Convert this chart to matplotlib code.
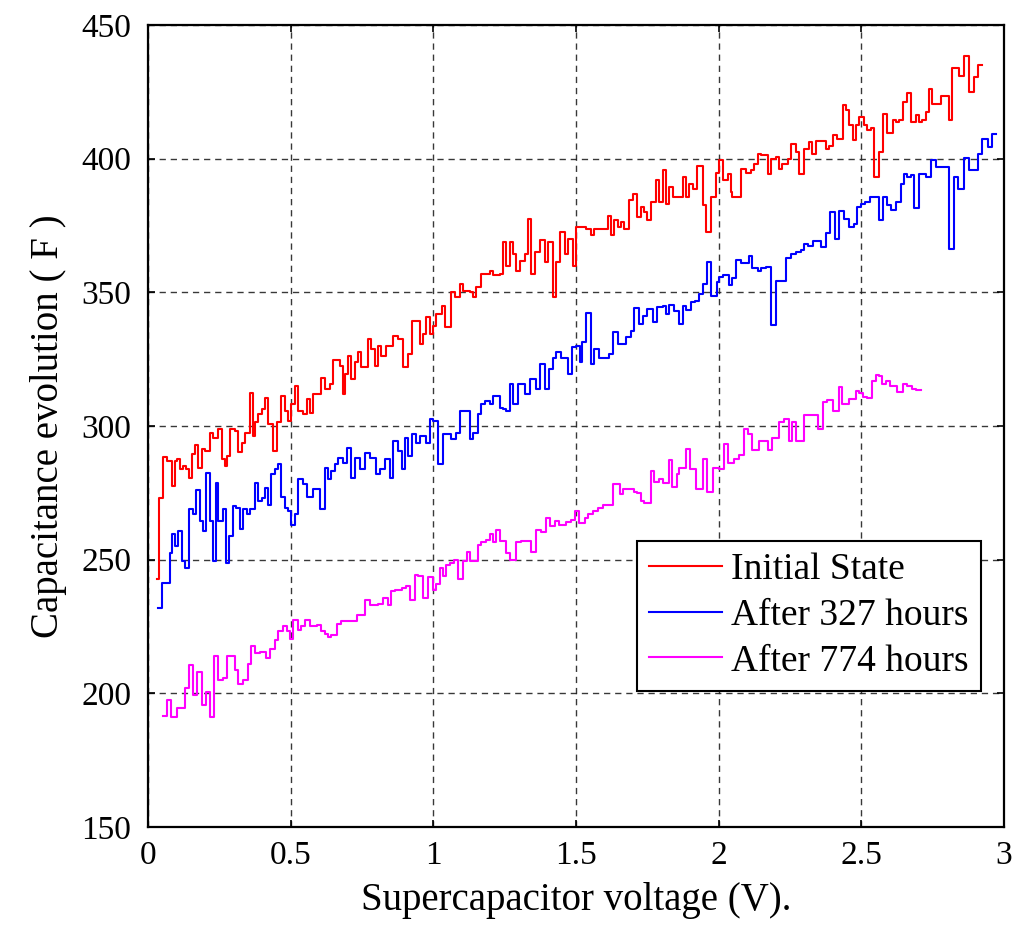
import numpy as np
import matplotlib
matplotlib.use("Agg")
import matplotlib.pyplot as plt

# values (step start voltage, capacitance)
red_v = [0.030, 0.040, 0.051, 0.065, 0.083, 0.095, 0.100, 0.112, 0.124, 0.135,
         0.145, 0.156, 0.165, 0.176, 0.188, 0.200, 0.217, 0.229, 0.246, 0.258,
         0.270, 0.278, 0.287, 0.305, 0.316, 0.328, 0.340, 0.357, 0.369, 0.375,
         0.386, 0.398, 0.410, 0.421, 0.439, 0.453, 0.468, 0.480, 0.492, 0.503,
         0.515, 0.527, 0.544, 0.556, 0.567, 0.579, 0.608, 0.620, 0.637, 0.649,
         0.673, 0.682, 0.690, 0.702, 0.713, 0.725, 0.737, 0.748, 0.772, 0.783,
         0.795, 0.807, 0.818, 0.836, 0.859, 0.877, 0.894, 0.912, 0.924, 0.953,
         0.964, 0.976, 0.988, 0.999, 1.011, 1.029, 1.040, 1.064, 1.075, 1.093,
         1.104, 1.128, 1.140, 1.151, 1.169, 1.198, 1.210, 1.233, 1.245, 1.256,
         1.268, 1.280, 1.291, 1.303, 1.321, 1.332, 1.344, 1.356, 1.373, 1.391,
         1.402, 1.420, 1.431, 1.443, 1.461, 1.472, 1.490, 1.501, 1.512, 1.535,
         1.553, 1.564, 1.611, 1.623, 1.634, 1.646, 1.658, 1.669, 1.687, 1.699,
         1.716, 1.728, 1.739, 1.751, 1.763, 1.780, 1.792, 1.804, 1.815, 1.827,
         1.839, 1.874, 1.886, 1.897, 1.909, 1.926, 1.944, 1.956, 1.973, 1.991,
         2.002, 2.014, 2.032, 2.043, 2.049, 2.078, 2.096, 2.113, 2.125, 2.137,
         2.148, 2.172, 2.183, 2.201, 2.213, 2.224, 2.242, 2.254, 2.271, 2.283,
         2.300, 2.318, 2.329, 2.341, 2.376, 2.388, 2.400, 2.417, 2.435, 2.446,
         2.458, 2.470, 2.481, 2.493, 2.511, 2.522, 2.534, 2.546, 2.563, 2.575,
         2.592, 2.610, 2.621, 2.633, 2.645, 2.662, 2.674, 2.692, 2.703, 2.715,
         2.727, 2.738, 2.750, 2.779, 2.808, 2.818, 2.843, 2.861, 2.879, 2.896,
         2.908, 2.925]
red_c = [242.9, 273.1, 288.4, 286.9, 277.5, 286.9, 287.5, 283.8, 285.0, 283.8,
         280.6, 289.4, 292.9, 284.4, 291.3, 290.6, 297.5, 295.6, 298.8, 287.5,
         285.0, 288.8, 298.8, 298.1, 290.3, 293.8, 297.5, 312.3, 296.3, 301.3,
         304.4, 306.3, 310.6, 300.6, 290.6, 301.3, 311.3, 305.6, 301.9, 308.1,
         315.0, 305.6, 304.6, 310.0, 305.0, 311.9, 318.1, 313.8, 315.6, 324.6,
         322.5, 312.1, 319.4, 326.3, 317.5, 323.8, 327.5, 321.9, 332.5, 328.8,
         322.5, 330.0, 326.3, 330.0, 333.8, 332.5, 321.9, 326.9, 339.4, 330.6,
         334.4, 340.6, 334.4, 337.5, 341.9, 345.0, 336.9, 350.0, 348.1, 353.1,
         350.6, 350.0, 348.1, 351.9, 356.9, 358.1, 356.3, 356.9, 368.8, 360.0,
         368.8, 364.4, 358.1, 361.9, 364.4, 377.5, 356.9, 365.0, 369.4, 361.3,
         368.8, 348.1, 361.3, 372.5, 364.4, 370.0, 360.0, 374.4, 374.4, 373.8,
         371.3, 373.8, 378.4, 371.3, 376.9, 374.4, 376.3, 373.8, 384.4, 386.9,
         378.1, 381.9, 380.0, 376.9, 383.8, 391.9, 383.8, 395.9, 383.1, 389.4,
         385.6, 393.1, 385.6, 390.6, 388.8, 397.1, 382.5, 372.5, 385.6, 394.6,
         399.6, 392.1, 394.1, 387.5, 385.6, 396.3, 394.6, 395.6, 398.1, 401.9,
         401.3, 394.4, 400.0, 400.6, 396.3, 398.1, 400.0, 405.6, 402.5, 394.1,
         403.8, 406.3, 401.9, 406.5, 403.8, 404.6, 408.8, 407.5, 420.0, 418.1,
         412.5, 406.9, 412.5, 415.6, 412.5, 410.6, 411.3, 393.1, 402.5, 416.9,
         409.6, 414.4, 413.8, 414.4, 421.3, 424.6, 413.8, 416.3, 413.8, 414.4,
         417.5, 425.9, 420.6, 423.4, 414.6, 433.8, 430.9, 438.4, 425.0, 430.6,
         435.0, 435.0]

blue_v = [0.036, 0.048, 0.077, 0.083, 0.095, 0.106, 0.118, 0.130, 0.145, 0.159,
          0.170, 0.182, 0.194, 0.205, 0.217, 0.227, 0.238, 0.246, 0.262, 0.273,
          0.285, 0.297, 0.308, 0.322, 0.334, 0.346, 0.357, 0.375, 0.386, 0.398,
          0.410, 0.421, 0.433, 0.445, 0.457, 0.468, 0.480, 0.492, 0.503, 0.515,
          0.527, 0.544, 0.556, 0.579, 0.602, 0.620, 0.632, 0.643, 0.655, 0.667,
          0.684, 0.696, 0.710, 0.725, 0.743, 0.760, 0.778, 0.801, 0.813, 0.830,
          0.848, 0.859, 0.877, 0.889, 0.900, 0.912, 0.924, 0.941, 0.953, 0.976,
          0.988, 0.999, 1.017, 1.034, 1.064, 1.081, 1.093, 1.128, 1.140, 1.157,
          1.169, 1.180, 1.198, 1.210, 1.233, 1.245, 1.256, 1.268, 1.280, 1.297,
          1.321, 1.338, 1.361, 1.373, 1.391, 1.406, 1.420, 1.431, 1.449, 1.472,
          1.487, 1.501, 1.513, 1.523, 1.535, 1.553, 1.564, 1.582, 1.617, 1.629,
          1.646, 1.675, 1.693, 1.704, 1.722, 1.734, 1.751, 1.769, 1.786, 1.804,
          1.815, 1.827, 1.845, 1.860, 1.877, 1.886, 1.903, 1.918, 1.932, 1.946,
          1.961, 1.973, 1.993, 2.002, 2.014, 2.037, 2.049, 2.061, 2.078, 2.107,
          2.119, 2.137, 2.148, 2.166, 2.183, 2.201, 2.236, 2.254, 2.271, 2.289,
          2.300, 2.315, 2.332, 2.359, 2.376, 2.390, 2.409, 2.423, 2.440, 2.456,
          2.475, 2.487, 2.499, 2.514, 2.530, 2.561, 2.575, 2.592, 2.604, 2.621,
          2.639, 2.651, 2.662, 2.674, 2.686, 2.703, 2.727, 2.744, 2.762, 2.808,
          2.826, 2.838, 2.861, 2.879, 2.908, 2.925, 2.943, 2.960, 2.974]
blue_c = [232.0, 241.3, 252.5, 259.4, 255.0, 260.6, 249.4, 246.9, 268.8, 266.9,
          275.9, 264.4, 260.6, 282.5, 264.4, 249.4, 278.8, 264.4, 268.8, 248.8,
          258.8, 270.0, 269.4, 261.3, 268.8, 266.9, 268.8, 278.8, 271.9, 273.1,
          276.9, 270.6, 281.9, 283.8, 285.6, 273.4, 269.4, 268.1, 263.1, 266.9,
          280.0, 278.1, 273.4, 276.3, 268.8, 284.4, 280.0, 283.1, 285.6, 288.1,
          286.3, 291.9, 280.6, 288.1, 283.8, 290.0, 288.1, 281.9, 283.8, 287.5,
          280.6, 294.4, 290.6, 283.8, 295.6, 288.8, 296.9, 293.8, 296.3, 293.8,
          302.5, 301.9, 285.6, 296.9, 295.0, 297.5, 305.6, 295.0, 297.5, 304.4,
          308.1, 309.4, 308.1, 311.3, 306.9, 306.3, 305.6, 315.6, 308.4, 315.6,
          311.9, 317.5, 313.8, 323.1, 313.8, 321.3, 325.6, 327.5, 325.6, 319.4,
          329.4, 330.0, 323.8, 331.3, 342.1, 323.1, 328.8, 325.4, 327.1, 335.0,
          330.6, 333.1, 335.6, 344.1, 338.1, 341.3, 343.8, 338.8, 344.4, 345.0,
          341.9, 345.4, 343.1, 338.1, 345.0, 343.4, 346.3, 346.9, 349.4, 353.1,
          361.3, 348.8, 353.8, 355.6, 356.6, 352.9, 355.4, 362.1, 360.9, 363.4,
          359.1, 357.9, 359.1, 359.6, 337.9, 354.1, 362.8, 364.4, 365.0, 365.9,
          368.1, 367.5, 369.1, 366.9, 372.3, 380.0, 370.0, 380.6, 377.5, 374.6,
          375.6, 381.9, 383.1, 383.8, 385.6, 377.1, 385.6, 382.5, 380.9, 383.8,
          390.6, 394.1, 393.1, 393.8, 381.6, 394.1, 393.1, 399.4, 396.9, 366.3,
          393.1, 388.8, 400.4, 395.9, 401.9, 407.5, 404.4, 409.4, 409.4]

pink_v = [0.051, 0.065, 0.079, 0.100, 0.130, 0.145, 0.159, 0.173, 0.188, 0.203,
          0.217, 0.231, 0.246, 0.262, 0.276, 0.305, 0.316, 0.332, 0.351, 0.360,
          0.375, 0.392, 0.413, 0.427, 0.445, 0.457, 0.472, 0.486, 0.497, 0.509,
          0.527, 0.538, 0.552, 0.567, 0.591, 0.608, 0.620, 0.632, 0.643, 0.661,
          0.678, 0.731, 0.760, 0.778, 0.807, 0.824, 0.842, 0.853, 0.865, 0.889,
          0.906, 0.918, 0.935, 0.947, 0.964, 0.982, 0.999, 1.009, 1.023, 1.034,
          1.046, 1.058, 1.072, 1.087, 1.104, 1.119, 1.130, 1.157, 1.169, 1.186,
          1.198, 1.210, 1.221, 1.233, 1.256, 1.270, 1.291, 1.309, 1.344, 1.361,
          1.379, 1.396, 1.408, 1.426, 1.441, 1.466, 1.484, 1.496, 1.511, 1.531,
          1.542, 1.560, 1.577, 1.595, 1.612, 1.630, 1.653, 1.665, 1.704, 1.716,
          1.728, 1.739, 1.763, 1.775, 1.792, 1.804, 1.825, 1.836, 1.853, 1.862,
          1.886, 1.900, 1.921, 1.944, 1.961, 1.981, 2.002, 2.020, 2.035, 2.055,
          2.072, 2.090, 2.102, 2.119, 2.143, 2.172, 2.189, 2.213, 2.230, 2.248,
          2.259, 2.271, 2.300, 2.350, 2.367, 2.382, 2.400, 2.421, 2.432, 2.456,
          2.481, 2.491, 2.505, 2.522, 2.537, 2.551, 2.561, 2.572, 2.586, 2.600,
          2.627, 2.645, 2.662, 2.678, 2.692, 2.709]
pink_c = [191.5, 197.5, 191.0, 194.4, 201.9, 210.6, 199.4, 208.1, 195.6, 200.3,
          191.0, 213.8, 205.0, 205.6, 213.8, 208.8, 203.5, 204.8, 211.0, 217.8,
          215.0, 215.6, 213.1, 216.5, 220.0, 223.1, 225.0, 223.1, 220.3, 227.5,
          223.8, 225.0, 227.5, 225.0, 225.6, 223.1, 222.3, 221.0, 221.9, 226.0,
          226.9, 229.4, 234.8, 232.9, 233.5, 235.6, 232.9, 238.1, 238.8, 239.4,
          240.0, 234.8, 244.4, 244.0, 235.6, 243.5, 238.5, 241.0, 246.9, 243.8,
          248.1, 248.8, 250.0, 242.8, 249.4, 252.8, 249.4, 255.6, 256.5, 257.5,
          259.4, 256.5, 261.0, 256.9, 252.3, 250.0, 256.5, 256.9, 252.8, 261.0,
          260.3, 265.6, 262.5, 264.4, 263.1, 264.0, 265.0, 268.1, 263.8, 265.6,
          266.9, 268.1, 269.4, 270.3, 270.6, 278.1, 274.4, 276.3, 275.3, 274.8,
          271.9, 271.0, 283.1, 279.0, 280.0, 278.5, 287.3, 277.3, 281.9, 284.4,
          291.5, 283.8, 276.3, 287.8, 275.3, 284.4, 283.8, 293.1, 286.3, 287.8,
          289.0, 298.8, 296.9, 291.0, 294.4, 291.0, 295.6, 301.3, 302.5, 294.4,
          301.3, 294.4, 304.0, 298.8, 308.8, 309.8, 305.6, 314.4, 308.1, 310.0,
          313.1, 312.3, 311.0, 310.3, 316.9, 319.0, 318.8, 315.6, 316.9, 315.0,
          312.8, 315.6, 315.0, 314.0, 313.5, 313.5]

labels = ["Initial State", "After 327 hours", "After 774 hours"]
colors = ["#ff0000", "#0000ff", "#ff00ff"]

plt.rcParams['font.family'] = ['Liberation Serif', 'DejaVu Serif']

fig = plt.figure(figsize=(10.17, 9.27), dpi=100)
ax = fig.add_axes([0.1455, 0.108, 0.8415, 0.865])

series = [(red_v, red_c), (blue_v, blue_c), (pink_v, pink_c)]
for (v, c), lab, col in zip(series, labels, colors):
    ax.plot(v, c, drawstyle='steps-post', color=col, lw=1.5, label=lab)

ax.set_xlim(0, 3)
ax.set_ylim(150, 450)
ax.set_xticks([0, 0.5, 1, 1.5, 2, 2.5, 3])
ax.set_xticklabels(["0", "0.5", "1", "1.5", "2", "2.5", "3"])
ax.set_yticks(np.arange(150, 451, 50))

ax.grid(True, color='#222222', linestyle=(0, (4.5, 3.5)), linewidth=1.0, alpha=0.9)
ax.tick_params(direction='in', length=5, width=1.2, labelsize=24,
               top=True, right=True)
ax.tick_params(axis='y', pad=12)
ax.tick_params(axis='x', pad=10)
for s in ax.spines.values():
    s.set_linewidth(1.6)

ax.set_xlabel("Supercapacitor voltage (V).", fontsize=28, labelpad=8)
ax.set_ylabel("Capacitance evolution ( F )", fontsize=28, labelpad=10)

leg = ax.legend(loc='upper left', bbox_to_anchor=(0.571, 0.357),
                borderaxespad=0, fontsize=27, fancybox=False, framealpha=1,
                edgecolor='k', handlelength=1.95, handletextpad=0.25,
                labelspacing=0.3, borderpad=0.32)
leg.get_frame().set_linewidth(1.5)
for h in leg.get_lines():
    h.set_linewidth(1.5)

fig.savefig("out.png", dpi=100)
